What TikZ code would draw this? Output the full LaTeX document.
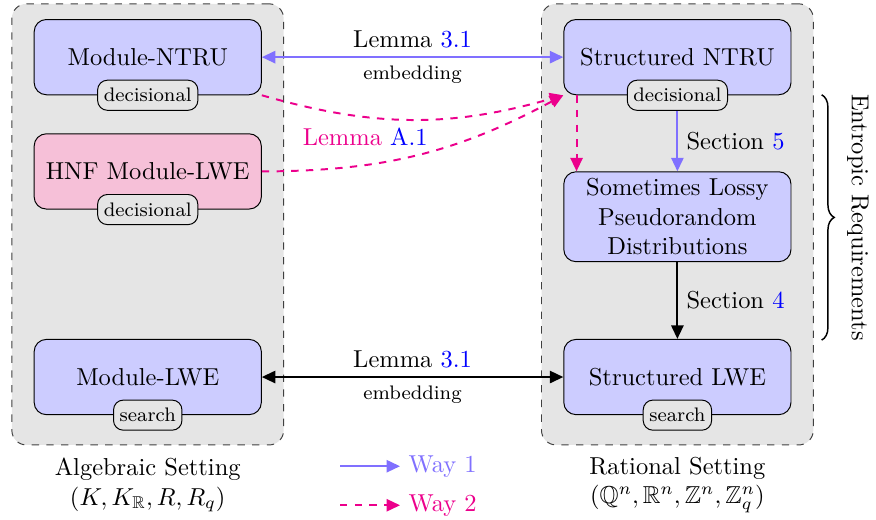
\documentclass[tikz,border=0pt]{standalone}
\usepackage{amsmath,amssymb}
\usepackage{xcolor}
\usepackage{tikz}
\usetikzlibrary{arrows.meta,calc,decorations.pathreplacing}

\definecolor{wayone}{RGB}{128,112,255}
\definecolor{waytwo}{RGB}{236,0,140}
\definecolor{hnfpink}{RGB}{246,192,216}
\definecolor{reflink}{RGB}{0,0,255}

\tikzset{
    setting/.style={draw=black!75, dashed, rounded corners=6pt, fill=gray!20, minimum width=3.9cm, minimum height=6.33cm},
    problem/.style={draw, rounded corners=5pt, fill=blue!20, minimum width=3.26cm, minimum height=1.08cm, align=center},
    tag/.style={draw, rounded corners=4pt, fill=gray!20, font=\footnotesize, minimum height=0.43cm, inner xsep=2.5pt},
    way1/.style={wayone, thick, -{Triangle[length=5.5pt,width=5pt]}},
    way2/.style={waytwo, thick, dashed, -{Triangle[length=5.5pt,width=5pt]}},
}

\begin{document}
\begin{tikzpicture}
    \useasboundingbox (0,0) rectangle (12.57,-7.45);

    % Settings
    \node[setting] (alg) at (2.12,-3.22) {};
    \node[setting] (rat) at (9.72,-3.22) {};

    % Algebraic problems
    \node[problem] (mntru) at (2.12,-0.82) {Module-NTRU};
    \node[problem, fill=hnfpink] (hnf) at (2.12,-2.46) {HNF Module-LWE};
    \node[problem] (mlwe) at (2.12,-5.41) {Module-LWE};
    \node[tag] (mntrutag) at (mntru.south) {decisional};
    \node[tag] (hnftag) at (hnf.south) {decisional};
    \node[tag] (mlwetag) at (mlwe.south) {search};

    % Rational problems
    \node[problem] (sntru) at (9.72,-0.82) {Structured NTRU};
    \node[problem, minimum height=1.29cm, inner ysep=1pt] (slpd) at (9.72,-3.11) {Sometimes Lossy\\Pseudorandom\\Distributions};
    \node[problem] (slwe) at (9.72,-5.41) {Structured LWE};
    \node[tag] (sntrutag) at (sntru.south) {decisional};
    \node[tag] (slwetag) at (slwe.south) {search};

    % Embeddings
    \draw[way1, {Triangle[length=5.5pt,width=5pt]}-{Triangle[length=5.5pt,width=5pt]}] (mntru.east) -- node[above, text=black] {Lemma \textcolor{reflink}{3.1}} node[below, text=black, font=\footnotesize] {embedding} (sntru.west);
    \draw[thick, {Triangle[length=5.5pt,width=5pt]}-{Triangle[length=5.5pt,width=5pt]}] (mlwe.east) -- node[above] {Lemma \textcolor{reflink}{3.1}} node[below, font=\footnotesize] {embedding} (slwe.west);

    % Way 2
    \draw[way2] (mntru.south east) to[bend right=16] (sntru.south west);
    \draw[way2] (hnf.east) to[bend right=14] (sntru.south west);
    \node[text=waytwo] (lemA) at (5.24,-1.97) {Lemma \textcolor{reflink}{A.1}};
    \draw[way2] ([xshift=0.19cm]sntru.south west) -- ([xshift=0.19cm]slpd.north west);

    % Way 1 and common step
    \draw[way1] (sntrutag.south) -- node[right, text=black] {Section \textcolor{reflink}{5}} (slpd.north);
    \draw[thick, -{Triangle[length=5.5pt,width=5pt]}] (slpd.south) -- node[right] {Section \textcolor{reflink}{4}} (slwe.north);

    % Entropic brace
    \coordinate (bracetop) at (11.79,-1.36);
    \coordinate (bracebot) at (11.79,-4.88);
    \draw[semithick, decorate, decoration={brace, amplitude=0.18cm}] (bracetop) -- (bracebot);
    \node[rotate=-90] (entropic) at (12.31,-3.12) {Entropic Requirements};

    % Captions
    \node[align=center] (algtxt) at (2.12,-6.96) {Algebraic Setting\\$(K, K_{\mathbb{R}}, R, R_q)$};
    \node[align=center] (rattxt) at (9.72,-6.96) {Rational Setting\\$(\mathbb{Q}^n, \mathbb{R}^n, \mathbb{Z}^n, \mathbb{Z}_q^n)$};

    % Legend
    \coordinate (w1start) at (4.88,-6.69);
    \coordinate (w2start) at (4.88,-7.25);
    \node[anchor=west, text=wayone] (w1txt) at (5.74,-6.69) {Way 1};
    \node[anchor=west, text=waytwo] (w2txt) at (5.74,-7.25) {Way 2};
    \draw[way1] (w1start) -- (w1txt.west);
    \draw[way2] (w2start) -- (w2txt.west);
\end{tikzpicture}
\end{document}
